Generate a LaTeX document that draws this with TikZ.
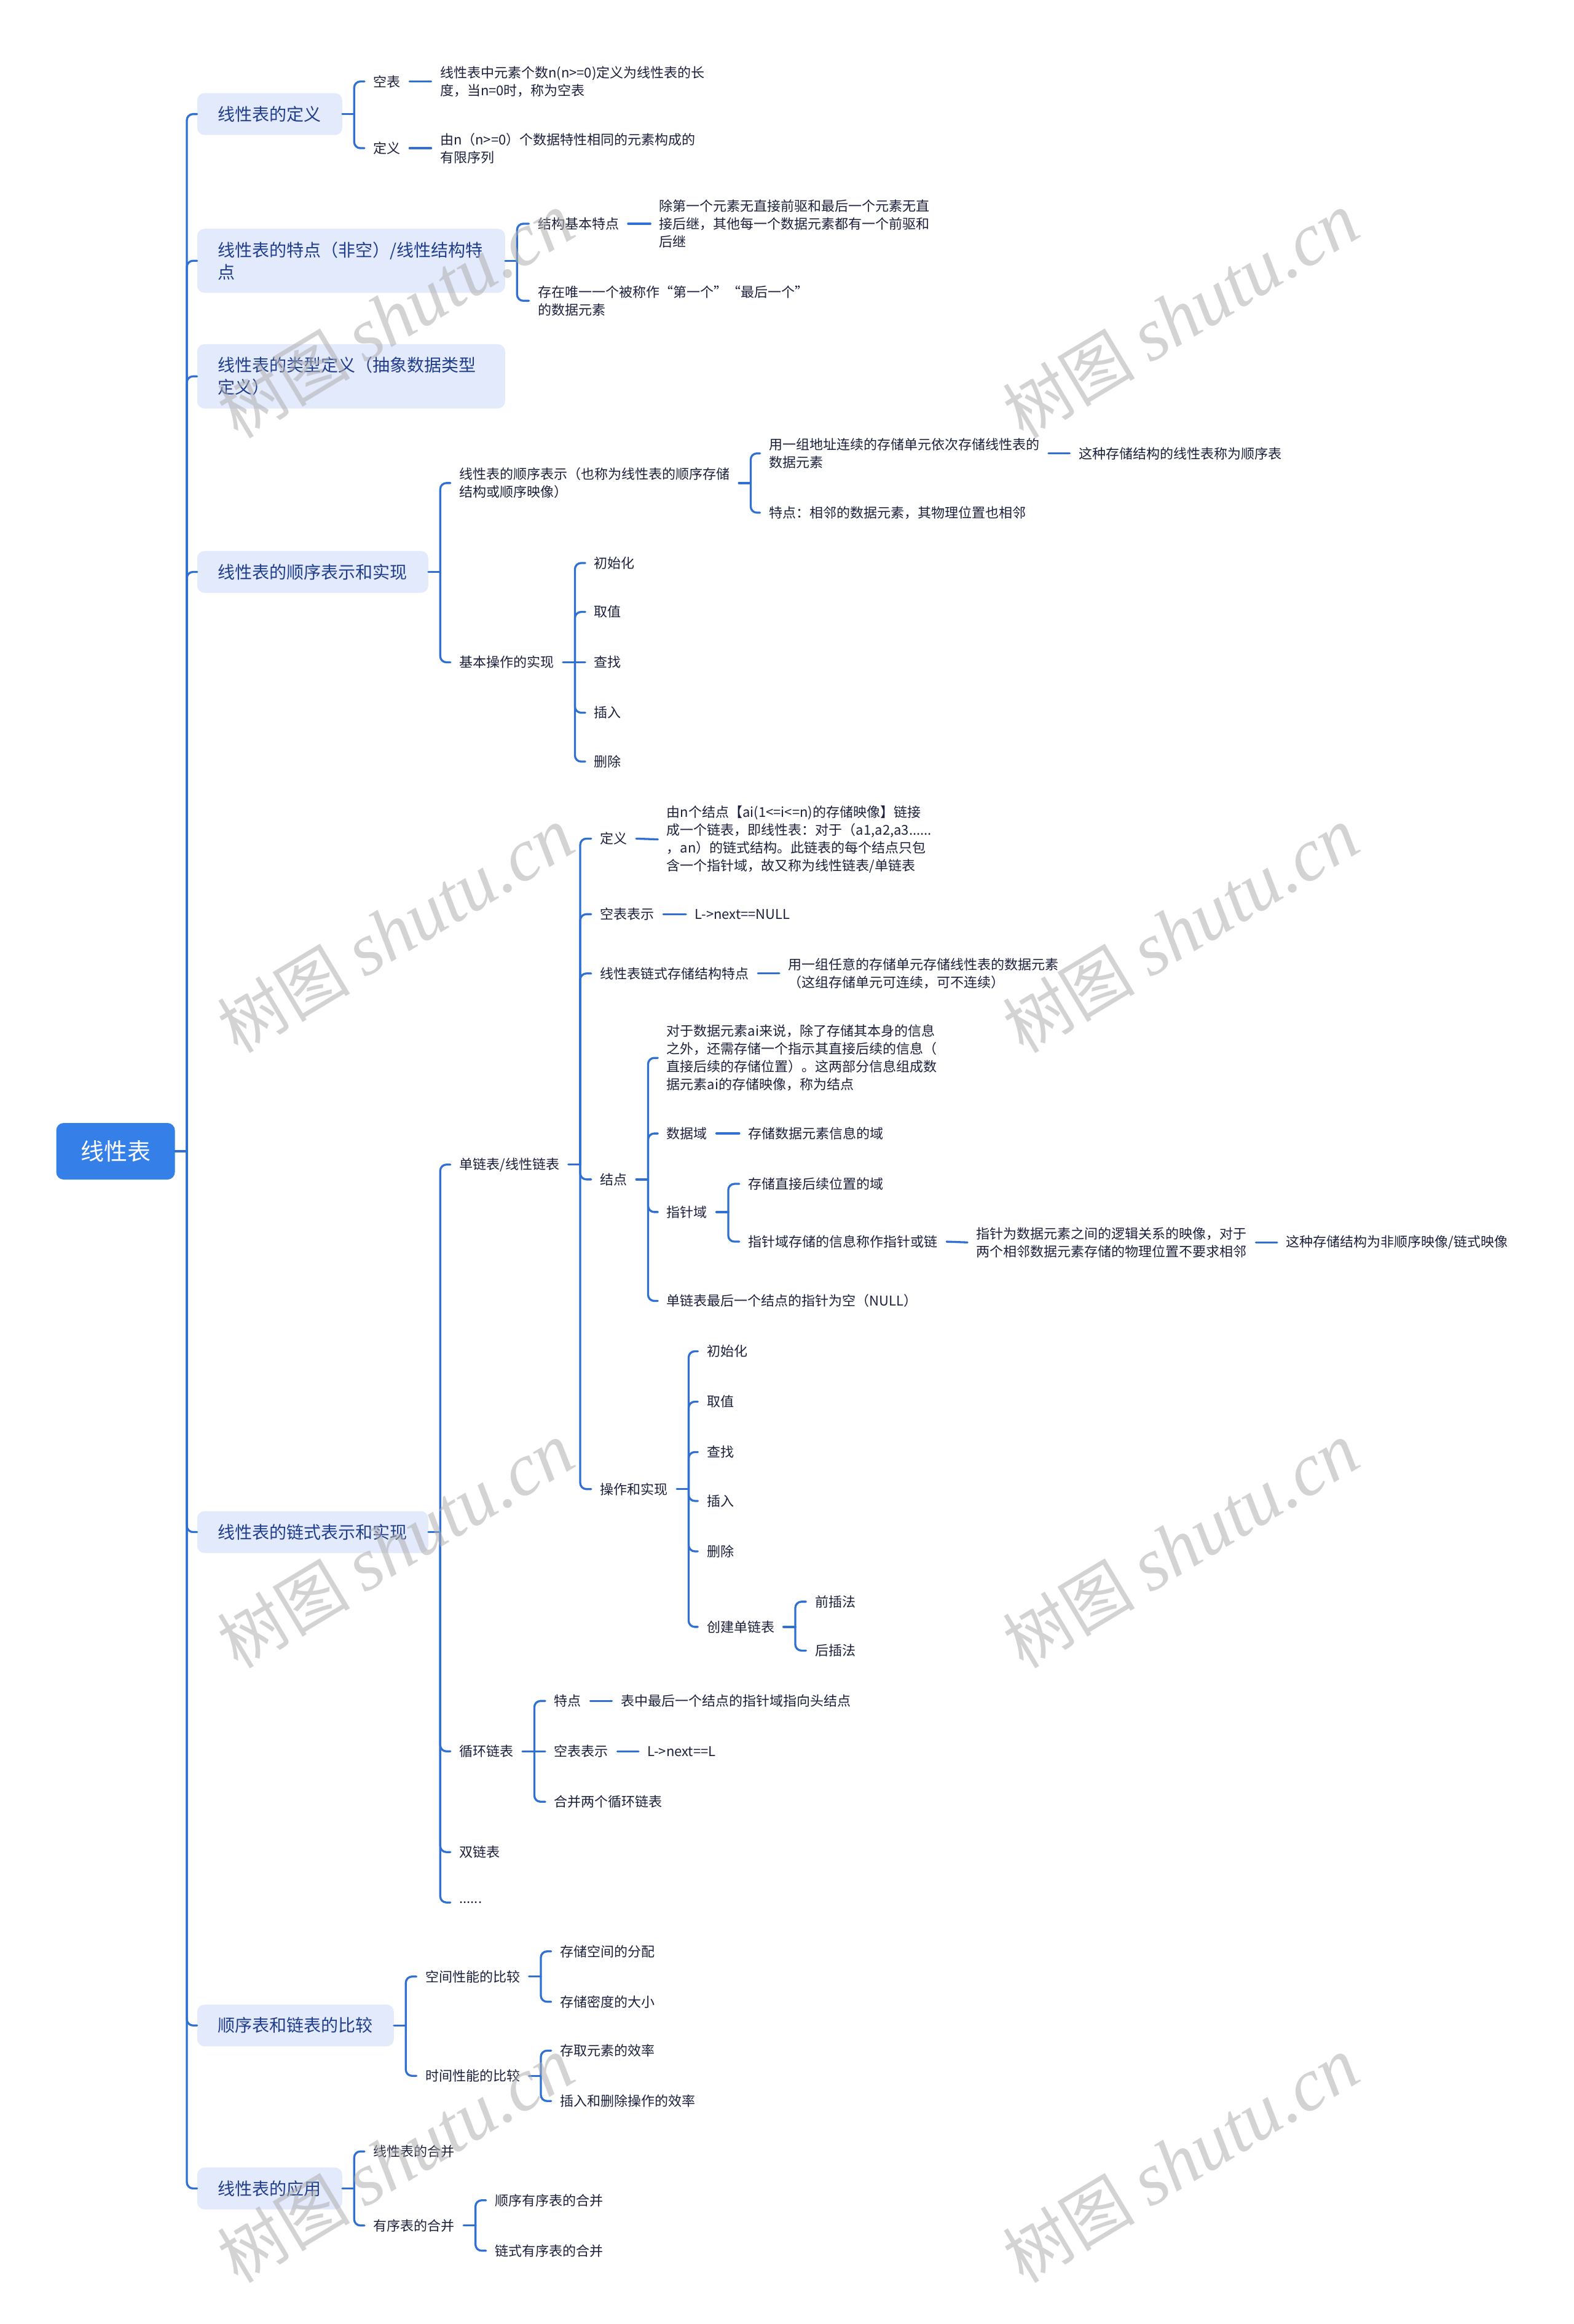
\documentclass[tikz,border=0pt]{standalone}
\usepackage{fontspec}
\setmainfont{Noto Sans CJK SC}
\newfontfamily\wmserif{Liberation Serif}
\definecolor{lc}{RGB}{48,112,210}
\definecolor{tc}{RGB}{28,32,60}
\definecolor{tt}{RGB}{32,62,140}
\definecolor{bf}{RGB}{226,234,252}
\definecolor{rc}{RGB}{52,128,232}
\definecolor{wmc}{RGB}{175,175,175}
\newcommand\leaffont{\fontsize{22}{29}\selectfont}
\newcommand\topicfont{\fontsize{28}{36}\selectfont}
\newcommand\rootfont{\fontsize{38}{44}\selectfont}
\tikzset{
  conn/.style={draw=lc, line width=3.3pt, line cap=round},
  hook/.style={conn, rounded corners=10pt},
  leaf/.style={font=\leaffont, text=tc, inner xsep=14.46pt, inner ysep=3pt, anchor=west, align=left},
  topic/.style={fill=bf, text=tt, font=\topicfont, rounded corners=12pt, inner xsep=34pt, inner ysep=21pt, anchor=west, align=left},
  rootbox/.style={fill=rc, text=white, font=\rootfont, rounded corners=12pt, minimum width=193pt, minimum height=92pt},
  wm/.style={text=wmc, opacity=0.55, rotate=31, font=\fontsize{108}{118}\selectfont}
}
\newcommand\stem[1]{\draw[conn] (#1.east) -- ++(8,0);}
\newcommand\kid[2]{\draw[hook] (#1.east) ++(8,0) |- (#2.west);}
\newcommand\link[2]{\draw[conn] (#1.east) -- (#2.west);}
\begin{document}
\begin{tikzpicture}[x=2.4105pt,y=-2.4105pt]
\useasboundingbox[fill=white] (0,0) rectangle (1062,1568.5);

% root and topics
\node[rootbox] (root) at (78,777) {线性表};
\node[topic] (t1) at (133,77) {线性表的定义};
\node[topic, text width=433pt] (t2) at (133,176) {线性表的特点（非空）/线性结构特\\点};
\node[topic, text width=433pt] (t3) at (133,254) {线性表的类型定义（抽象数据类型\\定义）};
\node[topic] (t4) at (133,386) {线性表的顺序表示和实现};
\node[topic] (t5) at (133,1034) {线性表的链式表示和实现};
\node[topic] (t6) at (133,1367) {顺序表和链表的比较};
\node[topic] (t7) at (133,1477) {线性表的应用};

% t1
\node[leaf] (a1) at (246,55) {空表};
\node[leaf] (a2) at (246,100) {定义};
\node[leaf] (a1x) at (291,55) {线性表中元素个数n(n>=0)定义为线性表的长\\度，当n=0时，称为空表};
\node[leaf] (a2x) at (291,100) {由n（n>=0）个数据特性相同的元素构成的\\有限序列};

% t2
\node[leaf] (b1) at (357,151) {结构基本特点};
\node[leaf] (b2) at (357,203) {存在唯一一个被称作“第一个”“最后一个”\\的数据元素};
\node[leaf] (b1x) at (439,151) {除第一个元素无直接前驱和最后一个元素无直\\接后继，其他每一个数据元素都有一个前驱和\\后继};

% t4
\node[leaf] (c1) at (304,326) {线性表的顺序表示（也称为线性表的顺序存储\\结构或顺序映像）};
\node[leaf] (c2) at (304,447) {基本操作的实现};
\node[leaf] (c11) at (513,306) {用一组地址连续的存储单元依次存储线性表的\\数据元素};
\node[leaf] (c12) at (513,346) {特点：相邻的数据元素，其物理位置也相邻};
\node[leaf] (c111) at (722,306) {这种存储结构的线性表称为顺序表};
\node[leaf] (c21) at (395,380) {初始化};
\node[leaf] (c22) at (395,413) {取值};
\node[leaf] (c23) at (395,447) {查找};
\node[leaf] (c24) at (395,481) {插入};
\node[leaf] (c25) at (395,514) {删除};

% t5
\node[leaf] (d1) at (304,786) {单链表/线性链表};
\node[leaf] (d2) at (304,1182) {循环链表};
\node[leaf] (d3) at (304,1250) {双链表};
\node[leaf] (d4) at (304,1284) {......};

\node[leaf] (e1) at (399,566) {定义};
\node[leaf] (e2) at (399,617) {空表表示};
\node[leaf] (e3) at (399,657) {线性表链式存储结构特点};
\node[leaf] (e4) at (399,796) {结点};
\node[leaf] (e5) at (399,1005) {操作和实现};
\node[leaf] (e1x) at (444,566.5) {由n个结点【ai(1<=i<=n)的存储映像】链接\\成一个链表，即线性表：对于（a1,a2,a3......\\，an）的链式结构。此链表的每个结点只包\\含一个指针域，故又称为线性链表/单链表};
\node[leaf] (e2x) at (463,617) {L->next==NULL};
\node[leaf] (e3x) at (526,657) {用一组任意的存储单元存储线性表的数据元素\\（这组存储单元可连续，可不连续）};

\node[leaf] (f1) at (444,714) {对于数据元素ai来说，除了存储其本身的信息\\之外，还需存储一个指示其直接后续的信息（\\直接后续的存储位置）。这两部分信息组成数\\据元素ai的存储映像，称为结点};
\node[leaf] (f2) at (444,765) {数据域};
\node[leaf] (f3) at (444,818) {指针域};
\node[leaf] (f4) at (444,878) {单链表最后一个结点的指针为空（NULL）};
\node[leaf] (f2x) at (499,765) {存储数据元素信息的域};
\node[leaf] (g1) at (499,799) {存储直接后续位置的域};
\node[leaf] (g2) at (499,838) {指针域存储的信息称作指针或链};
\node[leaf] (g2x) at (653,838.5) {指针为数据元素之间的逻辑关系的映像，对于\\两个相邻数据元素存储的物理位置不要求相邻};
\node[leaf] (g2xx) at (862,838.5) {这种存储结构为非顺序映像/链式映像};

\node[leaf] (o1) at (471,912) {初始化};
\node[leaf] (o2) at (471,946) {取值};
\node[leaf] (o3) at (471,980) {查找};
\node[leaf] (o4) at (471,1013) {插入};
\node[leaf] (o5) at (471,1047) {删除};
\node[leaf] (o6) at (471,1098) {创建单链表};
\node[leaf] (o61) at (544,1081) {前插法};
\node[leaf] (o62) at (544,1114) {后插法};

\node[leaf] (h1) at (368,1148) {特点};
\node[leaf] (h2) at (368,1182) {空表表示};
\node[leaf] (h3) at (368,1216) {合并两个循环链表};
\node[leaf] (h1x) at (413,1148) {表中最后一个结点的指针域指向头结点};
\node[leaf] (h2x) at (431,1182) {L->next==L};

% t6
\node[leaf] (i1) at (281,1334) {空间性能的比较};
\node[leaf] (i2) at (281,1401) {时间性能的比较};
\node[leaf] (i11) at (372,1317) {存储空间的分配};
\node[leaf] (i12) at (372,1351) {存储密度的大小};
\node[leaf] (i21) at (372,1384) {存取元素的效率};
\node[leaf] (i22) at (372,1418) {插入和删除操作的效率};

% t7
\node[leaf] (j1) at (246,1452) {线性表的合并};
\node[leaf] (j2) at (246,1502) {有序表的合并};
\node[leaf] (j21) at (328,1485) {顺序有序表的合并};
\node[leaf] (j22) at (328,1519) {链式有序表的合并};

% connectors
\stem{root}
\foreach \t in {t1,t2,t3,t4,t5,t6,t7} {\kid{root}{\t}}
\stem{t1} \kid{t1}{a1} \kid{t1}{a2} \link{a1}{a1x} \link{a2}{a2x}
\stem{t2} \kid{t2}{b1} \kid{t2}{b2} \link{b1}{b1x}
\stem{t4} \kid{t4}{c1} \kid{t4}{c2}
\stem{c1} \kid{c1}{c11} \kid{c1}{c12} \link{c11}{c111}
\stem{c2} \kid{c2}{c21} \kid{c2}{c22} \link{c2}{c23} \kid{c2}{c24} \kid{c2}{c25}
\stem{t5} \kid{t5}{d1} \kid{t5}{d2} \kid{t5}{d3} \kid{t5}{d4}
\stem{d1} \kid{d1}{e1} \kid{d1}{e2} \kid{d1}{e3} \kid{d1}{e4} \kid{d1}{e5}
\link{e1}{e1x} \link{e2}{e2x} \link{e3}{e3x}
\stem{e4} \kid{e4}{f1} \kid{e4}{f2} \kid{e4}{f3} \kid{e4}{f4}
\link{f2}{f2x}
\stem{f3} \kid{f3}{g1} \kid{f3}{g2}
\link{g2}{g2x} \link{g2x}{g2xx}
\stem{e5} \kid{e5}{o1} \kid{e5}{o2} \kid{e5}{o3} \kid{e5}{o4} \kid{e5}{o5} \kid{e5}{o6}
\stem{o6} \kid{o6}{o61} \kid{o6}{o62}
\stem{d2} \kid{d2}{h1} \link{d2}{h2} \kid{d2}{h3}
\link{h1}{h1x} \link{h2}{h2x}
\stem{t6} \kid{t6}{i1} \kid{t6}{i2}
\stem{i1} \kid{i1}{i11} \kid{i1}{i12}
\stem{i2} \kid{i2}{i21} \kid{i2}{i22}
\stem{t7} \kid{t7}{j1} \kid{t7}{j2}
\stem{j2} \kid{j2}{j21} \kid{j2}{j22}

% watermarks
\foreach \wx in {267,797} {
  \foreach \wy in {213,628,1043,1458} {
    \node[wm] at (\wx,\wy) {树图 {\wmserif\itshape\fontsize{121}{130}\selectfont shutu.cn}};
  }
}
\end{tikzpicture}
\end{document}
